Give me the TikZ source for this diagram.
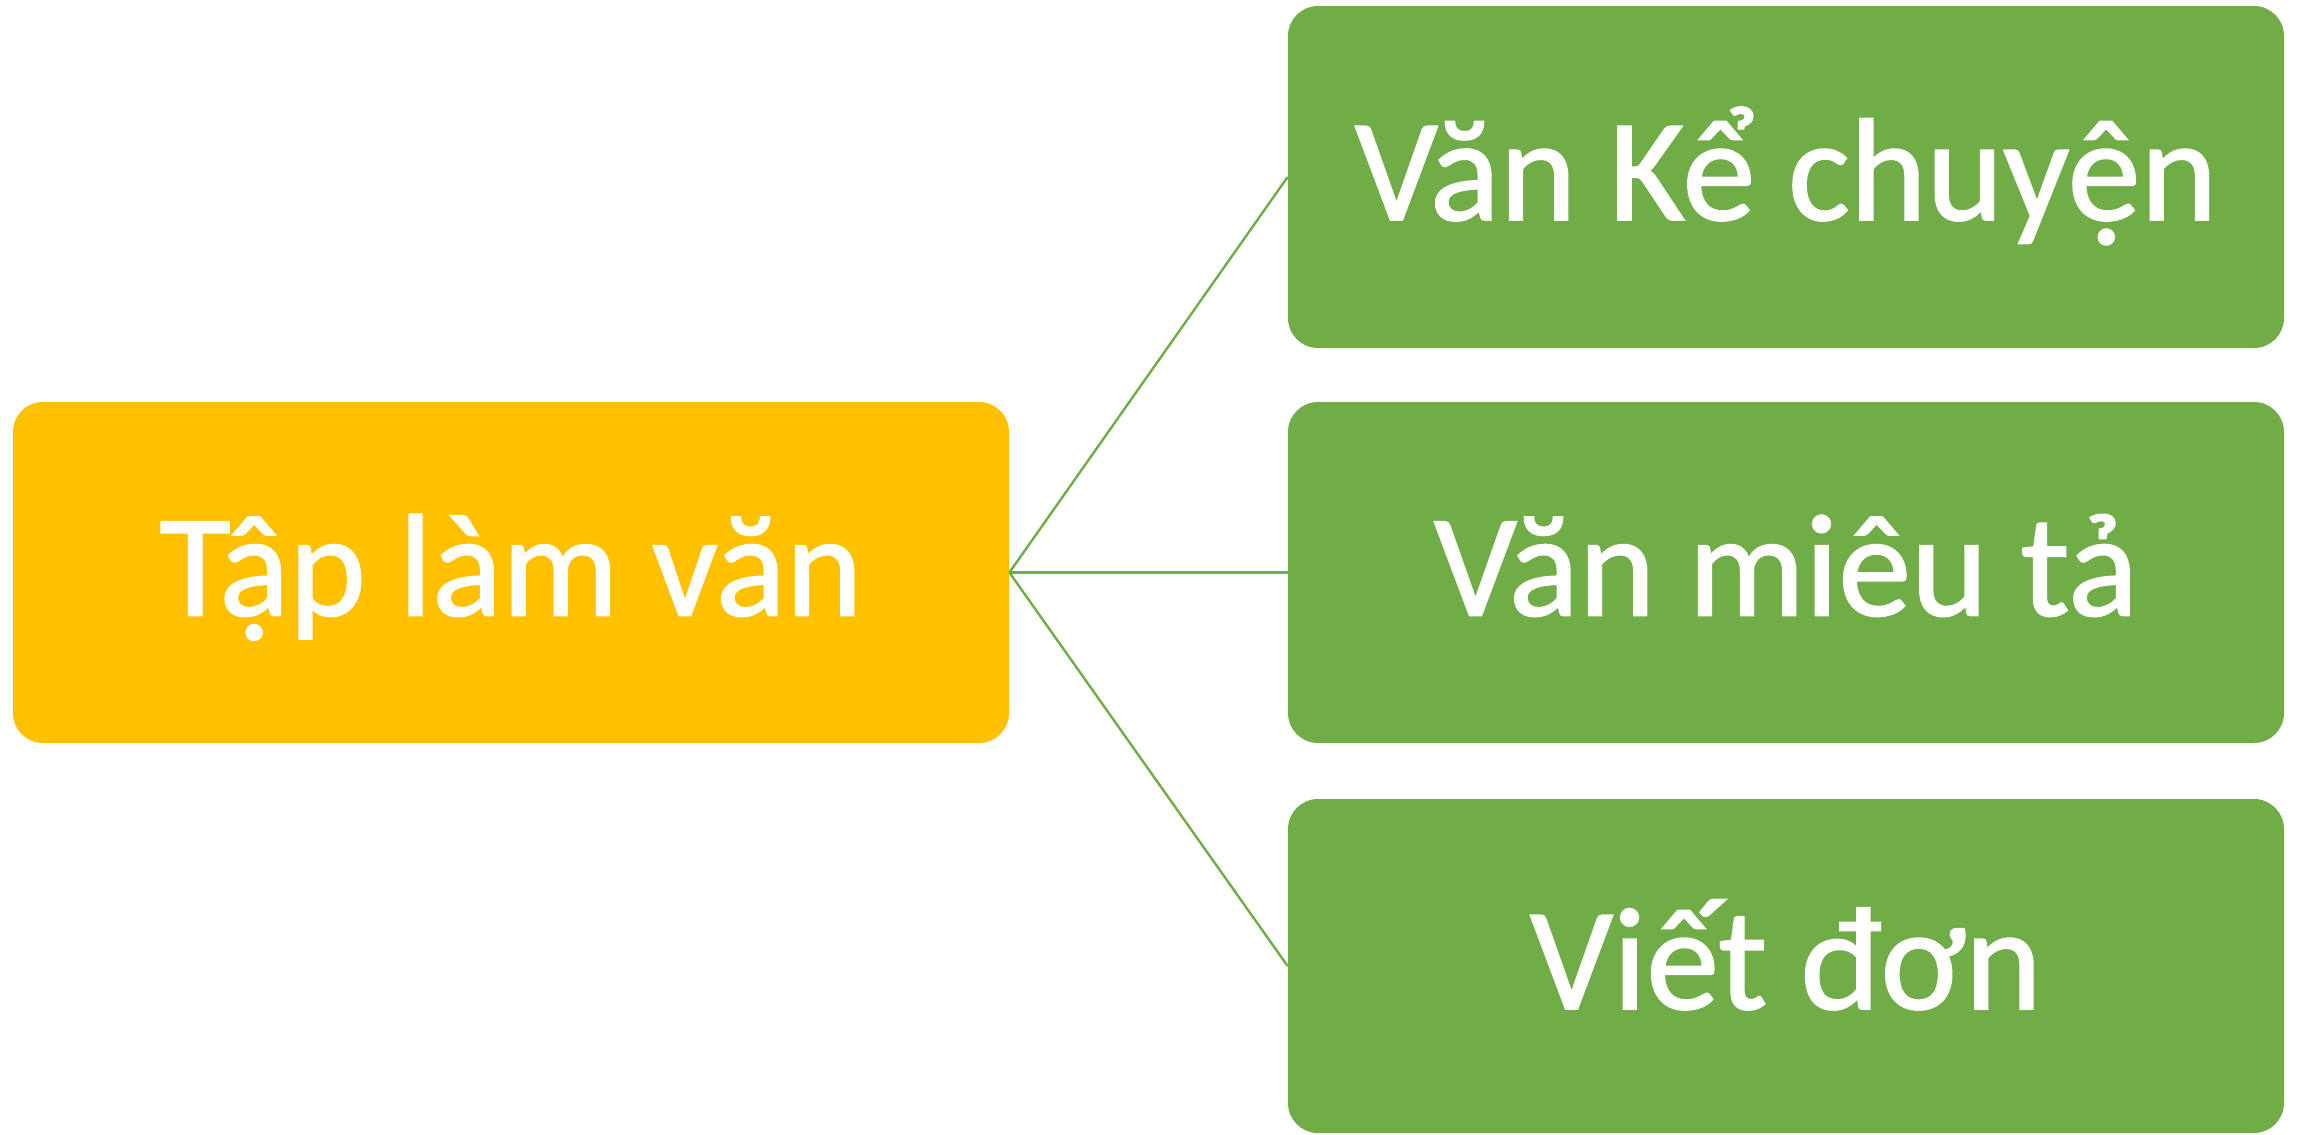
\documentclass[tikz,border=0pt]{standalone}
\usepackage{fontspec}
\setmainfont[FakeBold=1.2,AutoFakeBold=1.2]{Carlito}
\definecolor{gold}{HTML}{FFC000}
\definecolor{leaf}{HTML}{70AD47}
\begin{document}
\begin{tikzpicture}[x=0.5pt,y=-0.5pt,
  box/.style={rectangle, rounded corners=15pt, minimum width=498pt, inner sep=0pt,
    text=white, font=\fontsize{73}{80}\selectfont\bfseries, text height=43pt, text depth=0pt},
  link/.style={draw=leaf, line width=1.2pt}]
\useasboundingbox (0,0) rectangle (2303,1135);
\node[box, fill=gold, minimum height=170.5pt] (root) at (511,572.5) {Tập làm văn};
\node[box, fill=leaf, minimum height=171pt] (k1) at (1786,177) {Văn Kể chuyện};
\node[box, fill=leaf, minimum height=170.5pt] (k2) at (1786,572.5) {Văn miêu tả};
\node[box, fill=leaf, minimum height=167pt] (k3) at (1786,966) {Viết đơn};
\draw[link] (root.east) -- (k1.west);
\draw[link] (root.east) -- (k2.west);
\draw[link] (root.east) -- (k3.west);
\end{tikzpicture}
\end{document}
